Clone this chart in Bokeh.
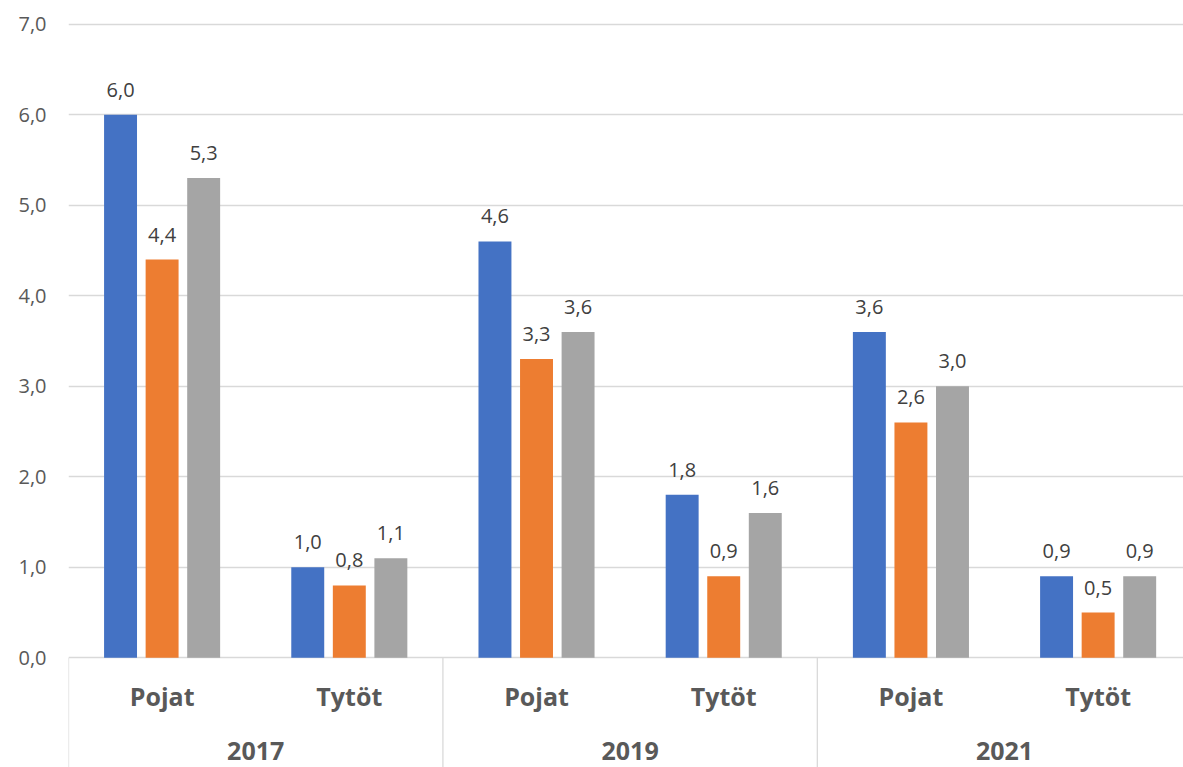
from bokeh.plotting import figure
from bokeh.models import ColumnDataSource, Range1d, FixedTicker, CustomJSTickFormatter
from bokeh.core.properties import value
from bokeh.embed import file_html
from bokeh.resources import INLINE

# ---- data ----
years = ["2017", "2019", "2021"]
genders = ["Pojat", "Tytöt"]
series_1 = [6.0, 1.0, 4.6, 1.8, 3.6, 0.9]
series_2 = [4.4, 0.8, 3.3, 0.9, 2.6, 0.5]
series_3 = [5.3, 1.1, 3.6, 1.6, 3.0, 0.9]
y_ticks = [0, 1, 2, 3, 4, 5, 6, 7]

colors = ["#4472C4", "#ED7D31", "#A5A5A5"]
text_color = "#595959"
label_color = "#404040"
grid_color = "#D9D9D9"
FONT = "Open Sans"

n_sub = len(years) * len(genders)
sub_labels = [g for _ in years for g in genders]
sub_pos = [i + 0.5 for i in range(n_sub)]

y_start, y_end = -1.212, 7.2618
p = figure(width=1183, height=767, output_backend="svg", toolbar_location=None,
           x_range=Range1d(0, 5.956), y_range=Range1d(y_start, y_end),
           x_axis_location=None, min_border_left=68, min_border_right=0,
           min_border_top=0, min_border_bottom=0)
p.outline_line_color = None
p.background_fill_color = "white"
p.border_fill_color = "white"
p.xgrid.visible = False
p.ygrid.grid_line_color = grid_color
p.ygrid.grid_line_width = 1.3
p.ygrid.ticker = FixedTicker(ticks=y_ticks)

ax = p.yaxis[0]
ax.ticker = FixedTicker(ticks=y_ticks)
ax.formatter = CustomJSTickFormatter(code="return tick.toFixed(1).replace('.', ',');")
ax.axis_line_color = None
ax.major_tick_line_color = None
ax.minor_tick_line_color = None
ax.major_tick_out = 0
ax.major_label_standoff = 22
ax.major_label_text_font = FONT
ax.major_label_text_font_size = "20px"
ax.major_label_text_color = text_color

# separators below the category axis
sep_x = [i * len(genders) for i in range(len(years))]
p.segment(x0=sep_x, y0=[0] * len(sep_x), x1=sep_x, y1=[y_start] * len(sep_x),
          line_color=grid_color, line_width=1.3)

offsets = [-0.222, 0.0, 0.222]
bar_w = 0.176
for vals, off, col in zip([series_1, series_2, series_3], offsets, colors):
    src = ColumnDataSource(dict(x=[xp + off for xp in sub_pos], top=vals,
                                lab=[f"{v:.1f}".replace(".", ",") for v in vals]))
    p.vbar(x="x", top="top", width=bar_w, bottom=0, source=src,
           fill_color=col, line_color=None)
    p.text(x="x", y="top", text="lab", source=src, text_align="center",
           text_baseline="alphabetic", y_offset=-25, text_font=value(FONT),
           text_font_size="20px", text_color=label_color)

# category labels
p.text(x=sub_pos, y=[0] * n_sub, text=sub_labels, text_align="center",
       text_baseline="alphabetic", y_offset=38, text_font=value(FONT),
       text_font_size="25px", text_font_style="bold", text_color=text_color)
year_pos = [i * len(genders) + len(genders) / 2 for i in range(len(years))]
p.text(x=year_pos, y=[0] * len(years), text=years, text_align="center",
       text_baseline="alphabetic", y_offset=93, text_font=value(FONT),
       text_font_size="25px", text_font_style="bold", text_color=text_color)

open("out.html", "w").write(file_html(p, INLINE))
